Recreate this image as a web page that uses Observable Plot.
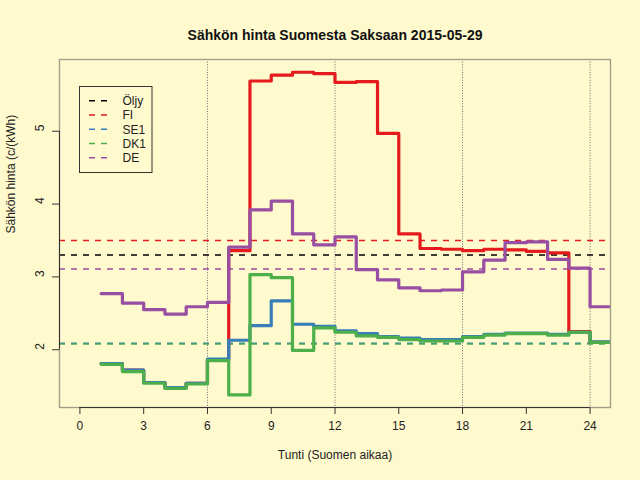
<!DOCTYPE html>
<html><head><meta charset="utf-8">
<script src="https://cdn.jsdelivr.net/npm/d3@7"></script>
<script src="https://cdn.jsdelivr.net/npm/@observablehq/plot@0.6"></script>
<style>
html,body{margin:0;padding:0;background:#FFFACD;}
#chart{position:relative;width:640px;height:480px;}
svg{display:block;}
</style></head><body><div id="chart"></div>
<script>
// hours 1..24, value for interval [h, h+1); last value repeated at 25 for the step end
const hours = d3.range(1, 26);
const fi  = [1.81,1.72,1.55,1.48,1.54,1.86,3.36,5.69,5.77,5.81,5.79,5.67,5.68,4.97,3.59,3.39,3.38,3.36,3.38,3.37,3.35,3.33,2.25,2.10,2.10];
const se1 = [1.81,1.72,1.55,1.48,1.54,1.87,2.13,2.33,2.67,2.35,2.32,2.26,2.22,2.18,2.16,2.14,2.14,2.18,2.21,2.23,2.23,2.21,2.24,2.11,2.11];
const dk1 = [1.80,1.70,1.54,1.47,1.53,1.85,1.38,3.03,2.99,1.99,2.30,2.24,2.19,2.17,2.14,2.12,2.12,2.17,2.20,2.22,2.22,2.20,2.24,2.10,2.10];
const de  = [2.77,2.64,2.55,2.49,2.59,2.65,3.41,3.92,4.04,3.59,3.44,3.55,3.10,2.96,2.85,2.81,2.82,3.07,3.23,3.47,3.48,3.24,3.12,2.59,2.59];

const seriesNames = ["Öljy","FI","SE1","DK1","DE"];
const seriesColors = ["#000000","#E41A1C","#377EB8","#4DAF4A","#984EA3"];
const averages = [3.30, 3.50, 2.09, 2.08, 3.11];

const xTicks = [0,3,6,9,12,15,18,21,24];
const yTicks = [2,3,4,5];
const gridX = [6,12,18,24];
const xDomain = [-0.96, 24.96];
const yDomain = [1.207, 5.985];

const title = "Sähkön hinta Suomesta Saksaan 2015-05-29";
const xLabel = "Tunti (Suomen aikaa)";
const yLabel = "Sähkön hinta (c/(kWh)";

const lineSeries = [
  {name: "FI", values: fi},
  {name: "SE1", values: se1},
  {name: "DK1", values: dk1},
  {name: "DE", values: de}
];
const colorOf = n => seriesColors[seriesNames.indexOf(n)];
const avgRows = seriesNames.map((n, i) => ({name: n, value: averages[i], color: seriesColors[i]}));

const font = "'Liberation Sans', Arial, Helvetica, sans-serif";

const plot = Plot.plot({
  width: 640, height: 480,
  marginLeft: 59, marginRight: 30, marginTop: 59, marginBottom: 73,
  style: {background: "transparent", fontFamily: font, fontSize: "12px", color: "#222", overflow: "visible"},
  x: {domain: xDomain, axis: null},
  y: {domain: yDomain, axis: null},
  color: {type: "identity"},
  marks: [
    Plot.ruleX(gridX, {stroke: "#6a6a6a", strokeDasharray: "1,1.6", strokeWidth: 1}),
    ...avgRows.map(r => Plot.ruleY([r.value], {stroke: r.color, strokeWidth: 1.5, strokeDasharray: "6,6"})),
    ...lineSeries.map(s => Plot.line(hours.map((h, i) => ({h, v: s.values[i]})), {
      x: "h", y: "v", curve: "step-after", stroke: colorOf(s.name), strokeWidth: 3.2,
      strokeLinejoin: "round", clip: true
    })),
    Plot.frame({stroke: "#a39e88", strokeWidth: 1.4}),
    Plot.ruleY([yDomain[0]], {x1: xTicks[0], x2: xTicks[xTicks.length-1], stroke: "#333"}),
    Plot.ruleX([xDomain[0]], {y1: yTicks[0], y2: yTicks[yTicks.length-1], stroke: "#333"}),
    Plot.axisX(xTicks, {tickSize: 7, tickPadding: 7, stroke: "#333", fill: "#222", fontSize: 12, label: null}),
    Plot.axisY(yTicks, {tickSize: 7, tickFormat: () => "", stroke: "#333", label: null}),
    Plot.text(yTicks, {y: d => d, frameAnchor: "left", dx: -19.5, rotate: -90, text: d => String(d), fontSize: 12, fill: "#222"}),
    Plot.text([title], {frameAnchor: "top", dy: -29, text: d => d, fontWeight: "bold", fontSize: 14, fill: "#111"}),
    Plot.text([xLabel], {frameAnchor: "bottom", dy: 51, text: d => d, fontSize: 12, fill: "#222"}),
    Plot.text([yLabel], {frameAnchor: "left", dx: -48, rotate: -90, text: d => d, fontSize: 12, fill: "#222"})
  ]
});
document.getElementById("chart").appendChild(plot);

// legend (inside plot area, top-left)
const svg = d3.select(plot);
const lg = svg.append("g").attr("font-family", font).attr("font-size", 12).attr("text-anchor", "start");
lg.append("rect").attr("x", 79.5).attr("y", 86.5).attr("width", 72.5).attr("height", 86)
  .attr("fill", "none").attr("stroke", "#333").attr("stroke-width", 1);
seriesNames.forEach((n, i) => {
  const y = 100.7 + i * 14.25;
  lg.append("line").attr("x1", 89).attr("x2", 109.5).attr("y1", y).attr("y2", y)
    .attr("stroke", seriesColors[i]).attr("stroke-width", 1.5).attr("stroke-dasharray", "6,6");
  lg.append("text").attr("x", 122.5).attr("y", y).attr("dy", "0.36em").attr("text-anchor", "start").attr("fill", "#222").text(n);
});
</script>
</body></html>
